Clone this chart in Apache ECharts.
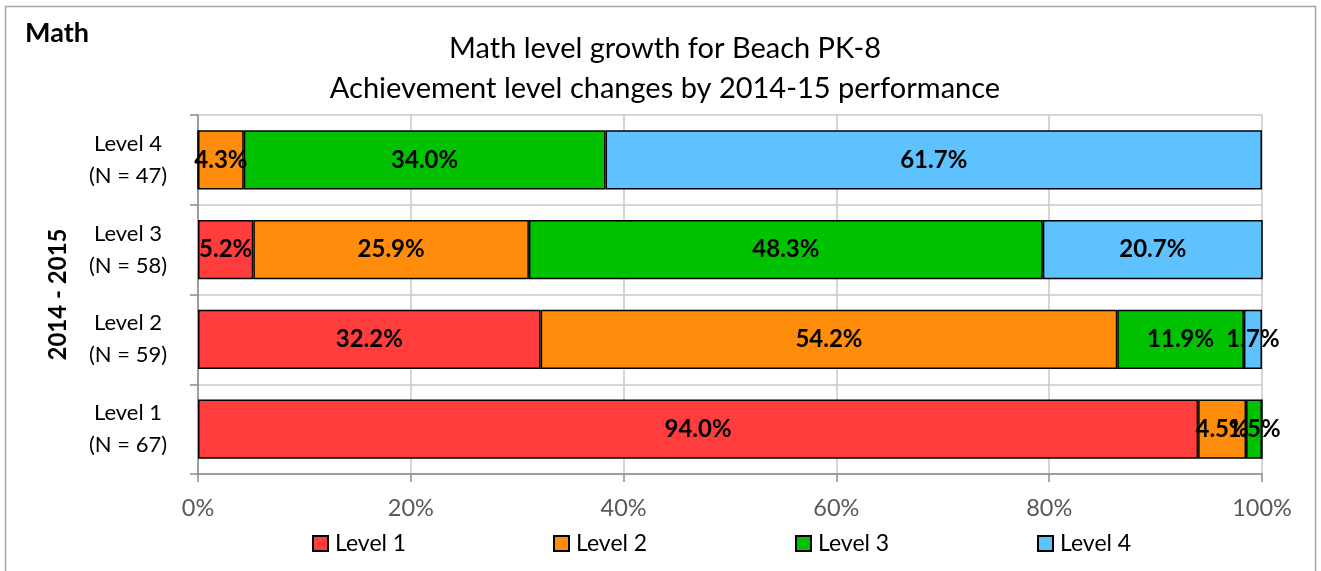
<!DOCTYPE html>
<html><head><meta charset="utf-8">
<script src="https://cdn.jsdelivr.net/npm/echarts@6/dist/echarts.min.js"></script>
<style>html,body{margin:0;padding:0;background:#fff}#c{width:1321px;height:571px}</style>
</head><body><div id="c"></div>
<script>
const categories = ['Level 1\n(N = 67)', 'Level 2\n(N = 59)', 'Level 3\n(N = 58)', 'Level 4\n(N = 47)'];
const seriesNames = ['Level 1', 'Level 2', 'Level 3', 'Level 4'];
const level1 = [94.0, 32.2, 5.2, 0];
const level2 = [4.5, 54.2, 25.9, 4.3];
const level3 = [1.5, 11.9, 48.3, 34.0];
const level4 = [0, 1.7, 20.7, 61.7];
const xTicks = [0, 20, 40, 60, 80, 100];
const colors = ['#FF3D3D', '#FF8C0A', '#00C200', '#5EC2FF'];
const FONT = 'Lato';
const legendLeft = [307, 548, 790, 1032];

const values = [level1, level2, level3, level4];
const chart = echarts.init(document.getElementById('c'), null, {renderer: 'canvas'});
chart.setOption({
  animation: false,
  textStyle: {fontFamily: FONT},
  graphic: [
    {type: 'rect', shape: {x: 5.5, y: 6.5, width: 1310, height: 570}, style: {fill: 'none', stroke: '#a6a6a6', lineWidth: 1.5}, silent: true},
    {type: 'text', left: 25, top: 20, style: {text: 'Math', font: 'bold 27px ' + FONT, fill: '#000'}}
  ],
  title: {
    text: 'Math level growth for Beach PK-8\nAchievement level changes by 2014-15 performance',
    left: 660, textAlign: 'center', top: 24,
    textStyle: {fontFamily: FONT, fontSize: 29, fontWeight: 'normal', color: '#000', lineHeight: 40}
  },
  legend: seriesNames.map((n, i) => ({
    top: 527, left: legendLeft[i], itemWidth: 15, itemHeight: 15, icon: 'rect',
    textStyle: {fontFamily: FONT, fontSize: 23, color: '#000', padding: [0, 0, 0, 2]},
    data: [n]
  })),
  grid: {left: 198, right: 59, top: 115, bottom: 97, containLabel: false},
  xAxis: {
    type: 'value', min: 0, max: 100, interval: 20,
    axisLabel: {formatter: v => v + '%', fontSize: 23.5, color: '#595959', margin: 22, fontFamily: FONT},
    axisLine: {show: true, lineStyle: {color: '#8c8c8c', width: 1.5}},
    axisTick: {show: true, length: 8, lineStyle: {color: '#8c8c8c', width: 1.5}},
    splitLine: {show: true, lineStyle: {color: '#c8c8c8', width: 1.5}}
  },
  yAxis: {
    type: 'category', data: categories,
    name: '2014 - 2015', nameLocation: 'middle', nameGap: 128, nameRotate: 90,
    nameTextStyle: {fontFamily: FONT, fontSize: 24, fontWeight: 'bold', color: '#000'},
    axisLabel: {fontSize: 22, color: '#000', margin: 70, lineHeight: 32, align: 'center', fontFamily: FONT},
    axisLine: {show: true, lineStyle: {color: '#8c8c8c', width: 1.5}},
    axisTick: {show: true, length: 8, lineStyle: {color: '#8c8c8c', width: 1.5}},
    splitLine: {show: true, lineStyle: {color: '#c8c8c8', width: 1.5}}
  },
  series: seriesNames.map((n, i) => ({
    name: n, type: 'bar', stack: 'all', barWidth: '66%',
    data: values[i],
    itemStyle: {color: colors[i], borderColor: '#000', borderWidth: 1.5},
    label: {
      show: true, position: 'inside', fontFamily: FONT, fontSize: 24, fontWeight: 'bold', color: '#000',
      formatter: p => p.value > 0 ? p.value.toFixed(1) + '%' : ''
    }
  }))
});
</script></body></html>
